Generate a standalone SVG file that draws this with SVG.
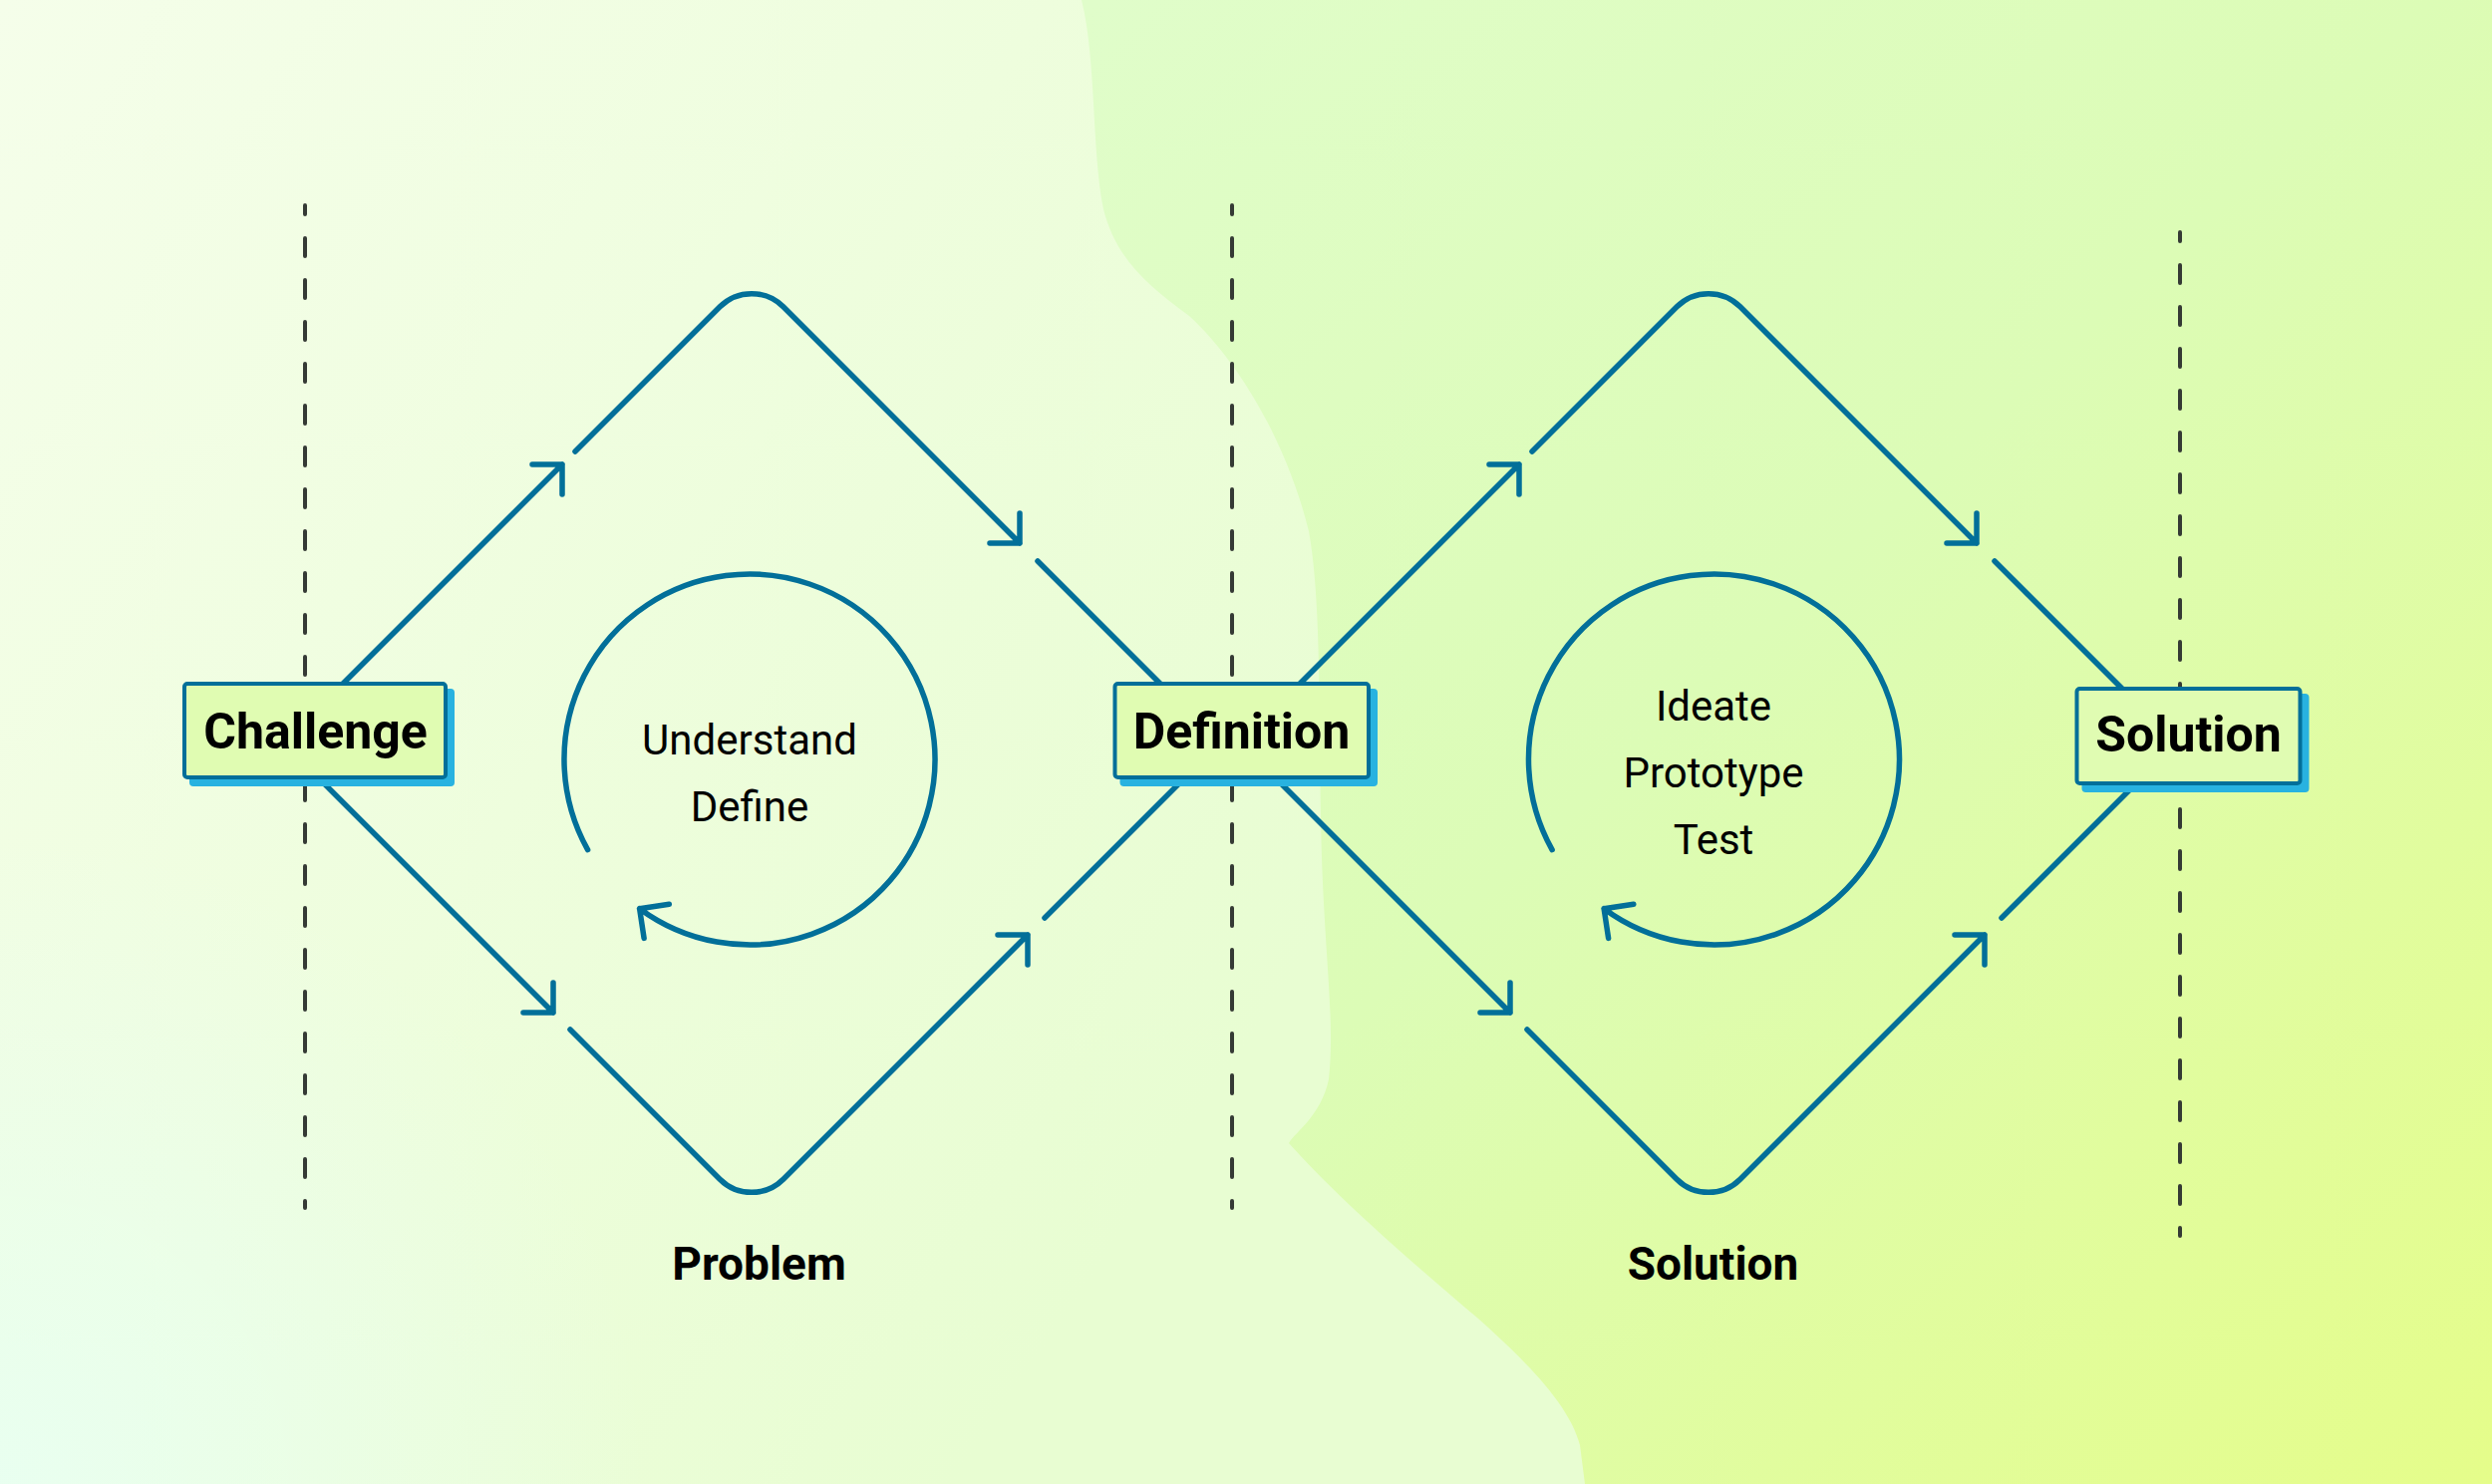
<svg xmlns="http://www.w3.org/2000/svg" width="2500" height="1489" viewBox="0 0 2500 1489">
  <defs>
    <linearGradient id="bgBase" gradientUnits="userSpaceOnUse" x1="1100" y1="0" x2="2500" y2="1489">
      <stop offset="0" stop-color="#e0fdca"/>
      <stop offset="0.45" stop-color="#dcfcb6"/>
      <stop offset="1" stop-color="#e5fd8a"/>
    </linearGradient>
    <linearGradient id="bgBlob" gradientUnits="userSpaceOnUse" x1="0" y1="0" x2="1350" y2="900">
      <stop offset="0" stop-color="#f5feea"/>
      <stop offset="1" stop-color="#e8fdd2"/>
    </linearGradient>
    <radialGradient id="mint" gradientUnits="userSpaceOnUse" cx="0" cy="1489" r="650">
      <stop offset="0" stop-color="#e8fff2" stop-opacity="0.9"/>
      <stop offset="1" stop-color="#e8fff2" stop-opacity="0"/>
    </radialGradient>
    <style>
      .flow { fill: none; stroke: #026f99; stroke-width: 5.5; stroke-linecap: round; stroke-linejoin: round; }
      .guide { fill: none; stroke: #353a35; stroke-width: 4; stroke-linecap: round; stroke-dasharray: 18 24; stroke-dashoffset: 9; }
      .box { fill: #e0fcb2; stroke: #026f99; stroke-width: 4; }
      .shadow { fill: #28b2e0; }
      .label { font-family: Roboto, "Liberation Sans", sans-serif; font-weight: 700; font-size: 50px; fill: #000; text-anchor: middle; }
      .phase { font-family: Roboto, "Liberation Sans", sans-serif; font-weight: 700; font-size: 46px; fill: #000; text-anchor: middle; }
      .step { font-family: Roboto, "Liberation Sans", sans-serif; font-weight: 400; font-size: 42px; fill: #000; text-anchor: middle; }
    </style>
  </defs>

  <g id="background">
    <rect x="0" y="0" width="2500" height="1489" fill="url(#bgBase)"/>
    <path d="M 0,0 L 1085,0 C 1100,60 1095,150 1107,210 C 1120,260 1150,285 1193,317 C 1240,360 1290,440 1313,533 C 1325,600 1323,700 1325,820 C 1327,950 1340,1020 1333,1083 C 1325,1120 1300,1135 1293,1147 C 1340,1200 1420,1270 1483,1323 C 1530,1365 1575,1410 1585,1450 L 1590,1489 L 0,1489 Z" fill="url(#bgBlob)"/>
    <rect x="0" y="0" width="2500" height="1489" fill="url(#mint)"/>
  </g>

  <g id="guides">
    <line class="guide" x1="306" y1="206" x2="306" y2="1212"/>
    <line class="guide" x1="1236" y1="206" x2="1236" y2="1212"/>
    <line class="guide" x1="2187" y1="233" x2="2187" y2="1240"/>
  </g>

  <g id="connectors">
    <!-- left diamond (Problem) -->
    <path class="flow" d="M 284.5,745.5 L 564,466 M 534,466 L 564,466 L 564,496"/>
    <path class="flow" d="M 577,453 L 722.2,307.8 A 45 45 0 0 1 785.8,307.8 L 1023,545 M 993,545 L 1023,545 L 1023,515"/>
    <path class="flow" d="M 1041,563 L 1223.5,745.5"/>
    <path class="flow" d="M 284.5,745.5 L 555,1016 M 525,1016 L 555,1016 L 555,986"/>
    <path class="flow" d="M 572,1033 L 722.2,1183.2 A 45 45 0 0 0 785.8,1183.2 L 1031,938 M 1001,938 L 1031,938 L 1031,968"/>
    <path class="flow" d="M 1048,921 L 1223.5,745.5"/>
    <!-- right diamond (Solution) -->
    <path class="flow" d="M 1244.5,745.5 L 1524,466 M 1494,466 L 1524,466 L 1524,496"/>
    <path class="flow" d="M 1537,453 L 1682.2,307.8 A 45 45 0 0 1 1745.8,307.8 L 1983,545 M 1953,545 L 1983,545 L 1983,515"/>
    <path class="flow" d="M 2001,563 L 2183.5,745.5"/>
    <path class="flow" d="M 1244.5,745.5 L 1515,1016 M 1485,1016 L 1515,1016 L 1515,986"/>
    <path class="flow" d="M 1532,1033 L 1682.2,1183.2 A 45 45 0 0 0 1745.8,1183.2 L 1991,938 M 1961,938 L 1991,938 L 1991,968"/>
    <path class="flow" d="M 2008,921 L 2183.5,745.5"/>
    <!-- iteration loops -->
    <path class="flow" d="M 589.6,852.7 A 186 186 0 1 1 641.6,911.7 M 671.3,907.2 L 641.6,911.7 L 646.1,941.4"/>
    <path class="flow" d="M 1557.1,852.7 A 186 186 0 1 1 1609.1,911.7 M 1638.8,907.2 L 1609.1,911.7 L 1613.6,941.4"/>
  </g>

  <g id="node-challenge">
    <rect class="shadow" x="190" y="691" width="266" height="98" rx="4"/>
    <rect class="box" x="185" y="686" width="262" height="94" rx="3"/>
    <text class="label" x="316.5" y="751">Challenge</text>
  </g>

  <g id="node-definition">
    <rect class="shadow" x="1123.5" y="691" width="258.5" height="98" rx="4"/>
    <rect class="box" x="1118.5" y="686" width="254.5" height="94" rx="3"/>
    <text class="label" x="1245.5" y="751">Definition</text>
  </g>

  <g id="node-solution">
    <rect class="shadow" x="2088.5" y="696" width="228" height="99" rx="4"/>
    <rect class="box" x="2083.5" y="691" width="224" height="95" rx="3"/>
    <text class="label" x="2195.5" y="754">Solution</text>
  </g>

  <g id="loop-problem">
    <text class="step" x="752" y="757">Understand</text>
    <text class="step" x="752" y="824">Define</text>
  </g>

  <g id="loop-solution">
    <text class="step" x="1719" y="723">Ideate</text>
    <text class="step" x="1719" y="790">Prototype</text>
    <text class="step" x="1719" y="857">Test</text>
  </g>

  <g id="phase-labels">
    <text class="phase" x="761.5" y="1284">Problem</text>
    <text class="phase" x="1718.5" y="1284">Solution</text>
  </g>
</svg>
